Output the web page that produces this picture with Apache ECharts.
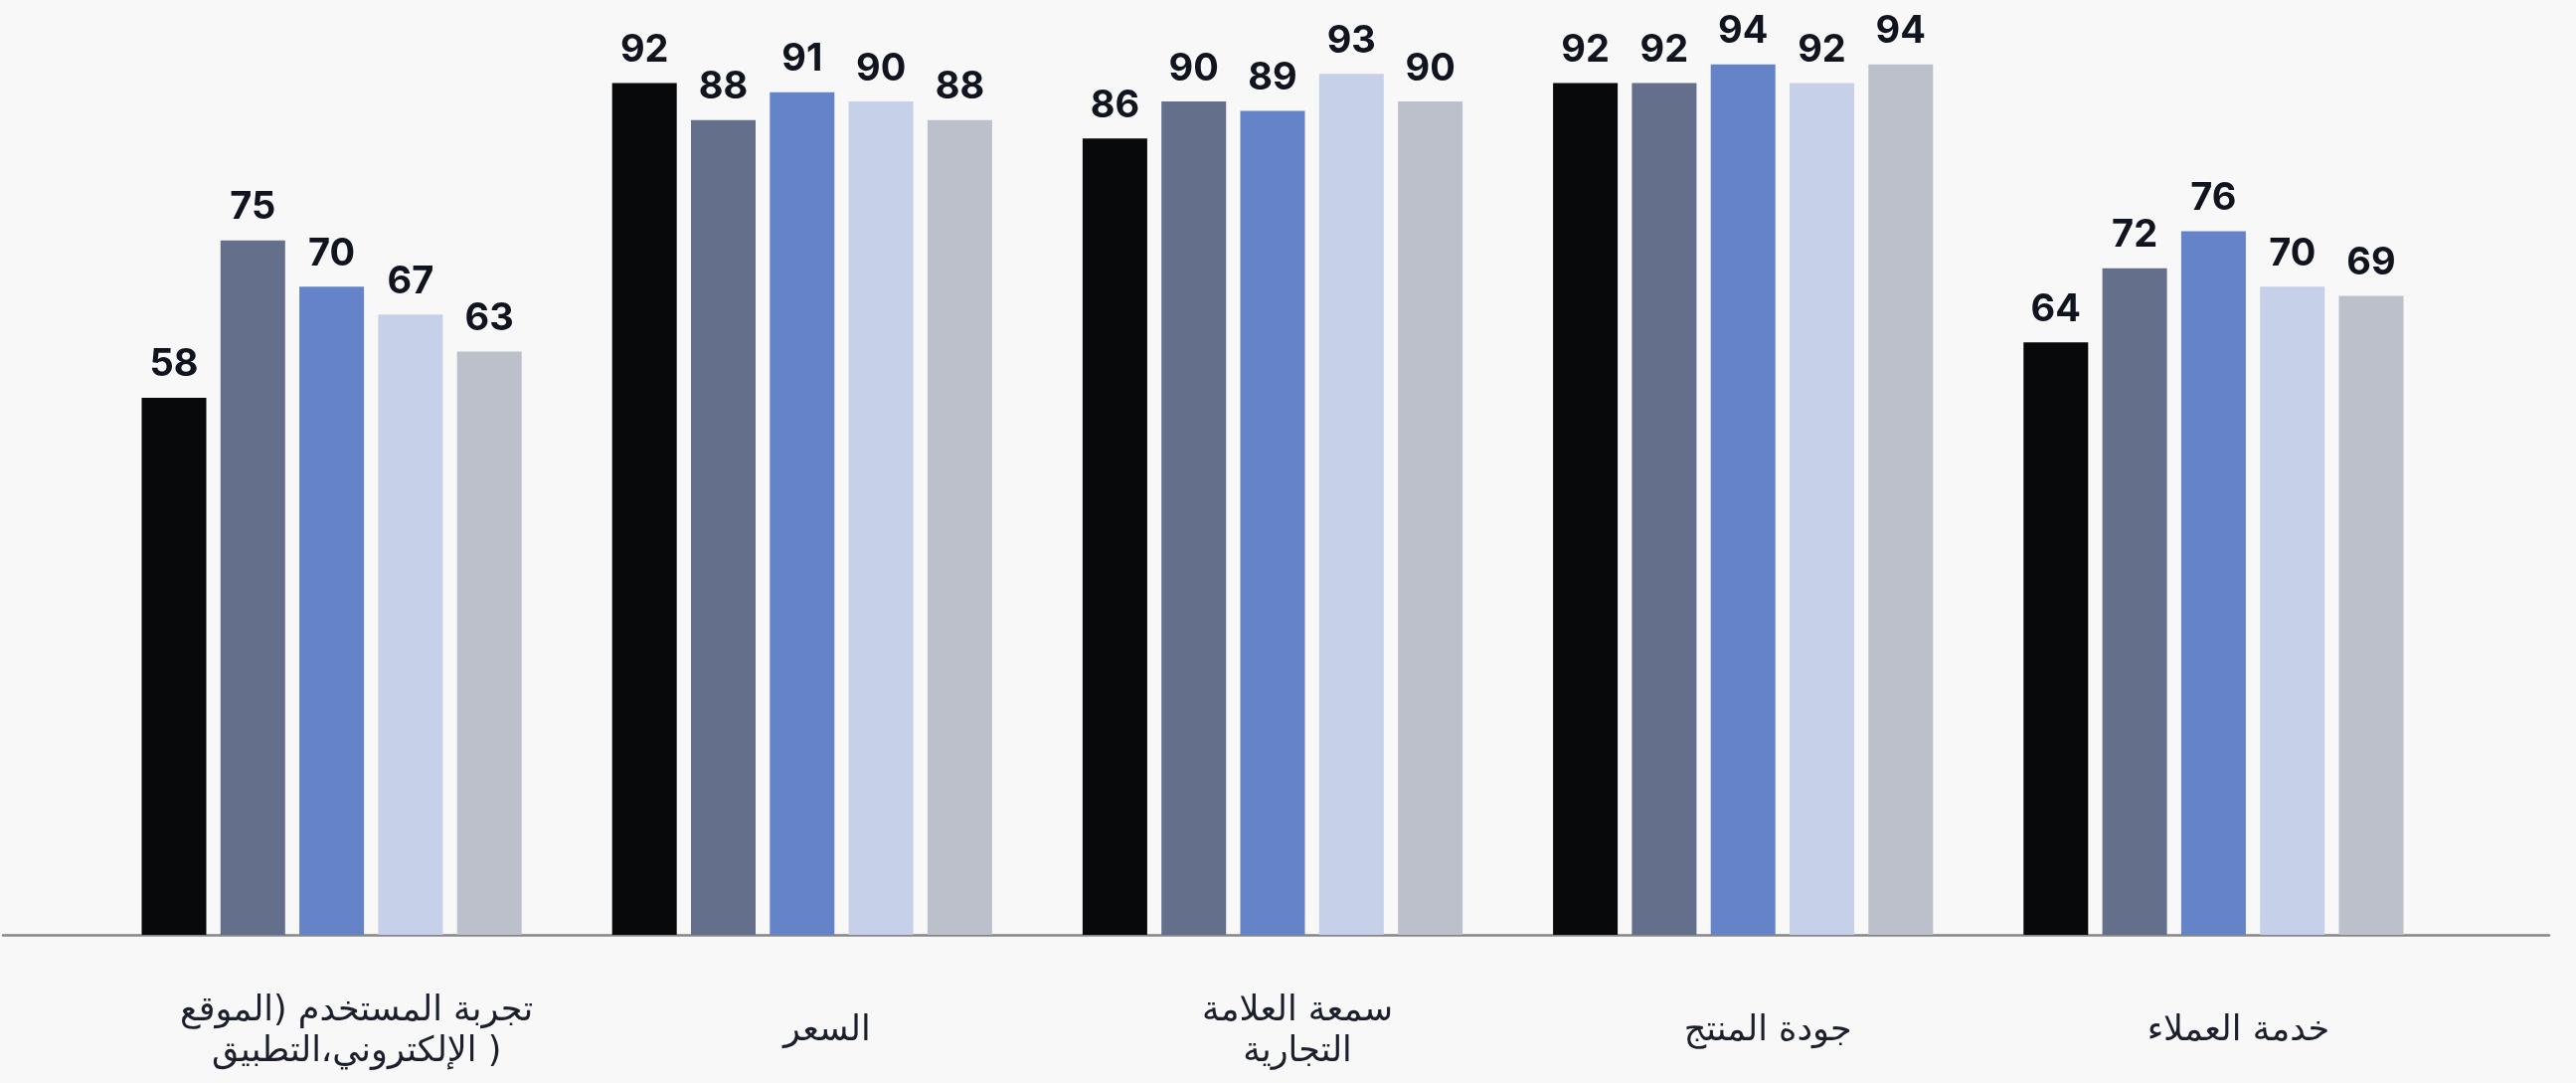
<!DOCTYPE html>
<html lang="ar">
<head>
<meta charset="utf-8">
<title>مؤشرات الرضا</title>
<script src="https://cdn.jsdelivr.net/npm/echarts@6/dist/echarts.min.js"></script>
<style>
  html, body { margin: 0; padding: 0; background: #f8f8f8; }
  #chart { width: 2591px; height: 1089px; }
</style>
</head>
<body>
<div id="chart"></div>
<script>
// Satisfaction scores per aspect, one series per respondent group
const categories = [
  'تجربة المستخدم (الموقع\nالإلكتروني،التطبيق )',
  'السعر',
  'سمعة العلامة\nالتجارية',
  'جودة المنتج',
  'خدمة العملاء'
];
const seriesNames = ['المجموعة 1', 'المجموعة 2', 'المجموعة 3', 'المجموعة 4', 'المجموعة 5'];
const group1 = [58, 92, 86, 92, 64];
const group2 = [75, 88, 90, 92, 72];
const group3 = [70, 91, 89, 94, 76];
const group4 = [67, 90, 93, 92, 70];
const group5 = [63, 88, 90, 94, 69];
const colors = ['#08090b', '#646f8c', '#6583c8', '#c6d0e8', '#bcc0ca'];

const seriesValues = [group1, group2, group3, group4, group5];

const chart = echarts.init(document.getElementById('chart'));

const series = seriesValues.map((vals, i) => ({
  name: seriesNames[i],
  type: 'bar',
  xAxisIndex: 0,
  yAxisIndex: 0,
  data: vals,
  barWidth: 65,
  barGap: '22%',
  itemStyle: { color: colors[i] },
  label: {
    show: true,
    position: 'top',
    distance: 14,
    color: '#10141f',
    fontFamily: 'Inter, "Open Sans", sans-serif',
    fontWeight: 700,
    fontSize: 38
  }
}));

chart.setOption({
  backgroundColor: '#f8f8f8',
  animation: false,
  grid: [
    { left: 97, right: 128, top: 9, bottom: 149 },
    // full-width baseline under the bars
    { left: 3, right: 27, top: 9, bottom: 149 }
  ],
  xAxis: [
    {
      type: 'category',
      gridIndex: 0,
      data: categories,
      axisLine: { show: false },
      axisTick: { show: false },
      axisLabel: {
        interval: 0,
        margin: 97,
        verticalAlign: 'middle',
        align: 'center',
        padding: [0, 0, 0, 50],
        color: '#1b1f2b',
        fontFamily: '"DejaVu Sans", "Noto Sans", sans-serif',
        fontSize: 35,
        lineHeight: 41
      }
    },
    {
      type: 'value',
      gridIndex: 1,
      min: 0,
      max: 1,
      axisLine: { show: true, onZero: false, lineStyle: { color: '#858585', width: 2.5 } },
      axisTick: { show: false },
      axisLabel: { show: false },
      splitLine: { show: false }
    }
  ],
  yAxis: [
    {
      type: 'value',
      gridIndex: 0,
      min: 0,
      max: 100,
      show: false,
      splitLine: { show: false }
    },
    {
      type: 'value',
      gridIndex: 1,
      min: 0,
      max: 1,
      show: false,
      splitLine: { show: false }
    }
  ],
  series: series
});
</script>
</body>
</html>
